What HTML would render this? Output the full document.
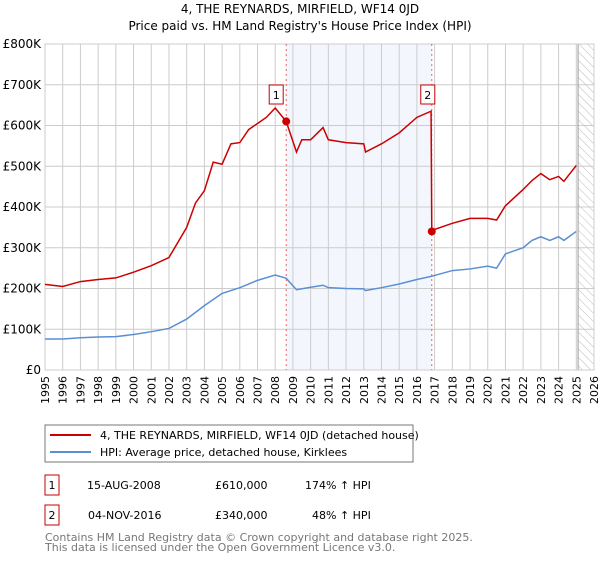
<!DOCTYPE html>
<html><head><meta charset="utf-8"><style>
body{margin:0;background:#fff;font-family:"DejaVu Sans","Liberation Sans",sans-serif;}
svg text{font-family:"DejaVu Sans","Liberation Sans",sans-serif;}
</style></head><body>
<svg id="c" width="600" height="560" viewBox="0 0 600 560">
<defs><pattern id="hatch" width="6" height="6" patternUnits="userSpaceOnUse" patternTransform="rotate(-45)"><line x1="0" y1="0" x2="0" y2="6" stroke="#bbb" stroke-width="1"/></pattern></defs>
<text x="300" y="13" text-anchor="middle" font-size="12">4, THE REYNARDS, MIRFIELD, WF14 0JD</text>
<text x="300" y="30" text-anchor="middle" font-size="12">Price paid vs. HM Land Registry's House Price Index (HPI)</text>
<g id="plot"></g>
<rect x="45" y="425" width="368" height="37" fill="#fff" stroke="#777"/>
<line x1="50" y1="435" x2="91" y2="435" stroke="#cc0000" stroke-width="2"/>
<text x="100" y="439" font-size="11">4, THE REYNARDS, MIRFIELD, WF14 0JD (detached house)</text>
<line x1="50" y1="452" x2="91" y2="452" stroke="#5b8fd4" stroke-width="2"/>
<text x="100" y="456" font-size="11">HPI: Average price, detached house, Kirklees</text>
<g font-size="11">
<rect x="45" y="475" width="14" height="20" fill="none" stroke="#c00"/>
<text x="52" y="489" text-anchor="middle">1</text>
<text x="87" y="489">15-AUG-2008</text><text x="215" y="489">£610,000</text><text x="305" y="489">174% ↑ HPI</text>
<rect x="45" y="505" width="14" height="20" fill="none" stroke="#c00"/>
<text x="52" y="519" text-anchor="middle">2</text>
<text x="88" y="519">04-NOV-2016</text><text x="215" y="519">£340,000</text><text x="312" y="519">48% ↑ HPI</text>
</g>
<text x="45" y="541" font-size="11" fill="#777">Contains HM Land Registry data © Crown copyright and database right 2025.</text>
<text x="45" y="551" font-size="11" fill="#777">This data is licensed under the Open Government Licence v3.0.</text>
</svg>
<script>
const hpiYears=[1995,1996,1997,1998,1999,2000,2001,2002,2003,2004,2005,2006,2007,2008,2008.62,2009.2,2010,2010.7,2011,2012,2013,2013.1,2014,2015,2016,2016.84,2017,2018,2019,2020,2020.5,2021,2022,2022.5,2023,2023.5,2024,2024.3,2025];
const hpiValues=[76,76,79,81,82,87,94,102,125,158,188,202,220,233,225,197,203,208,202,200,199,195,202,211,222,230,232,244,248,255,250,285,300,318,327,318,327,318,340];
const priceYears=[1995,1996,1997,1998,1999,2000,2001,2002,2003,2003.5,2004,2004.5,2005,2005.5,2006,2006.5,2007,2007.5,2008,2008.62,2009.2,2009.5,2010,2010.7,2011,2012,2013,2013.1,2014,2015,2016,2016.8,2016.84,2017,2018,2019,2020,2020.5,2021,2022,2022.5,2023,2023.5,2024,2024.3,2025];
const priceValues=[210,205,217,222,226,240,256,276,350,410,440,510,505,555,558,590,605,620,643,610,535,565,565,595,565,558,555,535,555,582,620,635,340,345,360,372,372,368,403,443,465,482,467,475,463,502];
const saleYears=[2008.62,2016.84];
const saleValues=[610,340];
const saleLabels=["1","2"];
const yTicks=[0,100,200,300,400,500,600,700,800];
const yTickLabels=["£0","£100K","£200K","£300K","£400K","£500K","£600K","£700K","£800K"];
const xTicks=[1995,1996,1997,1998,1999,2000,2001,2002,2003,2004,2005,2006,2007,2008,2009,2010,2011,2012,2013,2014,2015,2016,2017,2018,2019,2020,2021,2022,2023,2024,2025,2026];
const X0=45,X1=594,Y0=370,Y1=44;
const xs=y=>X0+(y-1995)/(2026-1995)*(X1-X0);
const ys=v=>Y0-v/800*(Y0-Y1);
const NS="http://www.w3.org/2000/svg";
const g=document.getElementById('plot');
function mk(t,a,p){const e=document.createElementNS(NS,t);for(const k in a)e.setAttribute(k,a[k]);(p||g).appendChild(e);return e;}
let e;
e=mk('rect',{x:xs(saleYears[0]),y:Y1,width:xs(saleYears[1])-xs(saleYears[0]),height:Y0-Y1,fill:'#eef3fc',opacity:0.7});


e=mk('rect',{x:xs(2025.1),y:Y1,width:X1-xs(2025.1),height:Y0-Y1,fill:'url(#hatch)'});


xTicks.forEach(t=>{
 e=mk('line',{x1:xs(t),x2:xs(t),y1:Y1,y2:Y0,stroke:'#ccc'});
 
 
 e=mk('text',{x:0,y:0,'font-size':11,'text-anchor':'end',transform:`translate(${xs(t)+4},${Y0+6}) rotate(-90)`});
 e.textContent=t;
 
 
});
yTicks.forEach((t,i)=>{
 e=mk('line',{x1:X0,x2:X1,y1:ys(t),y2:ys(t),stroke:'#ccc'});
 
 
 e=mk('text',{x:X0-4,y:ys(t)+4,'font-size':12,'text-anchor':'end'});
 e.textContent=yTickLabels[i];
 
 
});
e=mk('line',{x1:xs(2025.1),x2:xs(2025.1),y1:Y1,y2:Y0,stroke:'#999'});


e=mk('rect',{x:X0,y:Y1,width:X1-X0,height:Y0-Y1,fill:'none',stroke:'#ccc'});


saleYears.forEach((s,i)=>{
 e=mk('line',{x1:xs(s),x2:xs(s),y1:Y1,y2:Y0,stroke:'#f06060','stroke-dasharray':'2,3'});
 
 
});
e=mk('polyline',{points:hpiYears.map((y,i)=>xs(y)+','+ys(hpiValues[i])).join(' '),fill:'none',stroke:'#5b8fd4','stroke-width':1.5});


e=mk('polyline',{points:priceYears.map((y,i)=>xs(y)+','+ys(priceValues[i])).join(' '),fill:'none',stroke:'#cc0000','stroke-width':1.5});


saleYears.forEach((s,i)=>{
 e=mk('circle',{cx:xs(s),cy:ys(saleValues[i]),r:4,fill:'#cc0000'});
 
 
 const bx=xs(s)-(i==0?10:4);
 e=mk('rect',{x:bx-7,y:Y1+41,width:14,height:19,fill:'#fff',stroke:'#c00'});
 
 
 e=mk('text',{x:bx,y:Y1+55,'font-size':11,'text-anchor':'middle'});
 e.textContent=saleLabels[i];
 
 
});
</script>
</body></html>
